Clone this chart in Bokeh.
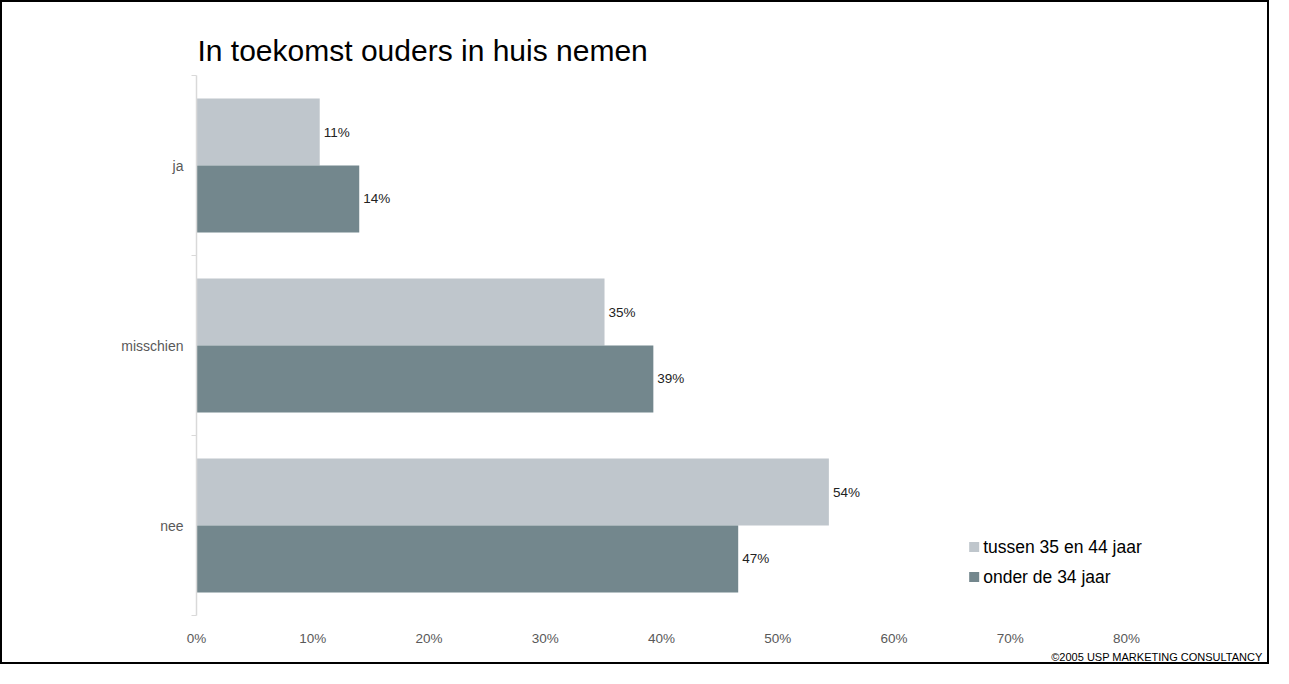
from bokeh.plotting import figure
from bokeh.models import ColumnDataSource, FixedTicker, PrintfTickFormatter, Range1d, Title
from bokeh.transform import dodge
from bokeh.core.properties import value
from bokeh.embed import file_html
from bokeh.resources import INLINE

# ---- data ----
categories = ["ja", "misschien", "nee"]
series_names = ["tussen 35 en 44 jaar", "onder de 34 jaar"]
tussen_35_44 = [10.6, 35.1, 54.4]
onder_34 = [14.0, 39.3, 46.6]
x_ticks = [0, 10, 20, 30, 40, 50, 60, 70, 80]
title_text = "In toekomst ouders in huis nemen"
credit_text = "\u00a92005 USP MARKETING CONSULTANCY"

# ---- style ----
colors = ["#BFC6CC", "#73878D"]
FONT = "Liberation Sans"
GRAY = "#595959"
BAR_H = 0.372
OFF = 0.186
X_END = 83.1  # a little room to the right of the 80% tick (legend text)

n = len(categories)
ypos = [n - 0.5 - i for i in range(n)]  # first category on top

src = ColumnDataSource(dict(
    y=ypos,
    cat=categories,
    s1=tussen_35_44,
    s2=onder_34,
    s1_lbl=[f"{round(v)}%" for v in tussen_35_44],
    s2_lbl=[f"{round(v)}%" for v in onder_34],
))

p = figure(width=1269, height=664, output_backend="svg", toolbar_location=None,
           x_range=Range1d(x_ticks[0], X_END), y_range=Range1d(0, n),
           min_border_left=194, min_border_right=109, min_border_top=73, min_border_bottom=51)
p.styles = {"border": "2px solid black"}
p.background_fill_color = "white"
p.border_fill_color = "white"
p.outline_line_color = None
p.grid.visible = False

# title
p.title.text = title_text
p.title.align = "left"
p.title.offset = 1
p.title.standoff = 17
p.title.text_font = FONT
p.title.text_font_size = "30px"
p.title.text_font_style = "normal"
p.title.text_color = "black"

p.hbar(y=dodge("y", OFF), left=0, right="s1", height=BAR_H, source=src,
       fill_color=colors[0], line_color=None)
p.hbar(y=dodge("y", -OFF), left=0, right="s2", height=BAR_H, source=src,
       fill_color=colors[1], line_color=None)

for col, off in (("s1", OFF), ("s2", -OFF)):
    p.text(x=col, y=dodge("y", off), text=col + "_lbl", source=src, x_offset=4,
           text_baseline="middle", text_align="left", text_font=value(FONT),
           text_font_size="13.5px", text_color="#222222")

# x axis
p.xaxis.ticker = FixedTicker(ticks=x_ticks)
p.xaxis.formatter = PrintfTickFormatter(format="%d%%")
p.xaxis.axis_line_color = None
p.xaxis.major_tick_line_color = None
p.xaxis.minor_tick_line_color = None
p.xaxis.major_tick_out = 0
p.xaxis.major_tick_in = 0
p.xaxis.major_label_standoff = 15
p.xaxis.major_label_text_font = FONT
p.xaxis.major_label_text_font_size = "13.5px"
p.xaxis.major_label_text_color = GRAY

# y axis
p.yaxis.ticker = FixedTicker(ticks=ypos, minor_ticks=list(range(n + 1)))
p.yaxis.major_label_overrides = {y: c for y, c in zip(ypos, categories)}
p.yaxis.axis_line_color = "#D9D9D9"
p.yaxis.axis_line_width = 1.5
p.yaxis.major_tick_line_color = None
p.yaxis.major_tick_in = 0
p.yaxis.major_tick_out = 0
p.yaxis.minor_tick_in = 0
p.yaxis.minor_tick_out = 5
p.yaxis.minor_tick_line_color = "#D9D9D9"
p.yaxis.major_label_standoff = 8
p.yaxis.major_label_text_font = FONT
p.yaxis.major_label_text_font_size = "14px"
p.yaxis.major_label_text_color = GRAY

# legend (manual)
leg_x = [66.9, 66.9]
leg_y = [0.381, 0.214]
lsrc = ColumnDataSource(dict(x=leg_x, y=leg_y, name=series_names, color=colors))
p.scatter(x="x", y="y", source=lsrc, marker="square", size=10,
          fill_color="color", line_color=None)
p.text(x="x", y="y", text="name", source=lsrc, x_offset=9, text_baseline="middle",
       text_align="left", text_font=value(FONT), text_font_size="17.5px", text_color="black")

# credit line
p.add_layout(Title(text=credit_text, align="right", offset=-100, standoff=0,
                   text_font=FONT, text_font_size="11px", text_font_style="normal",
                   text_color="black"), "below")

open("out.html", "w").write(file_html(p, INLINE))
